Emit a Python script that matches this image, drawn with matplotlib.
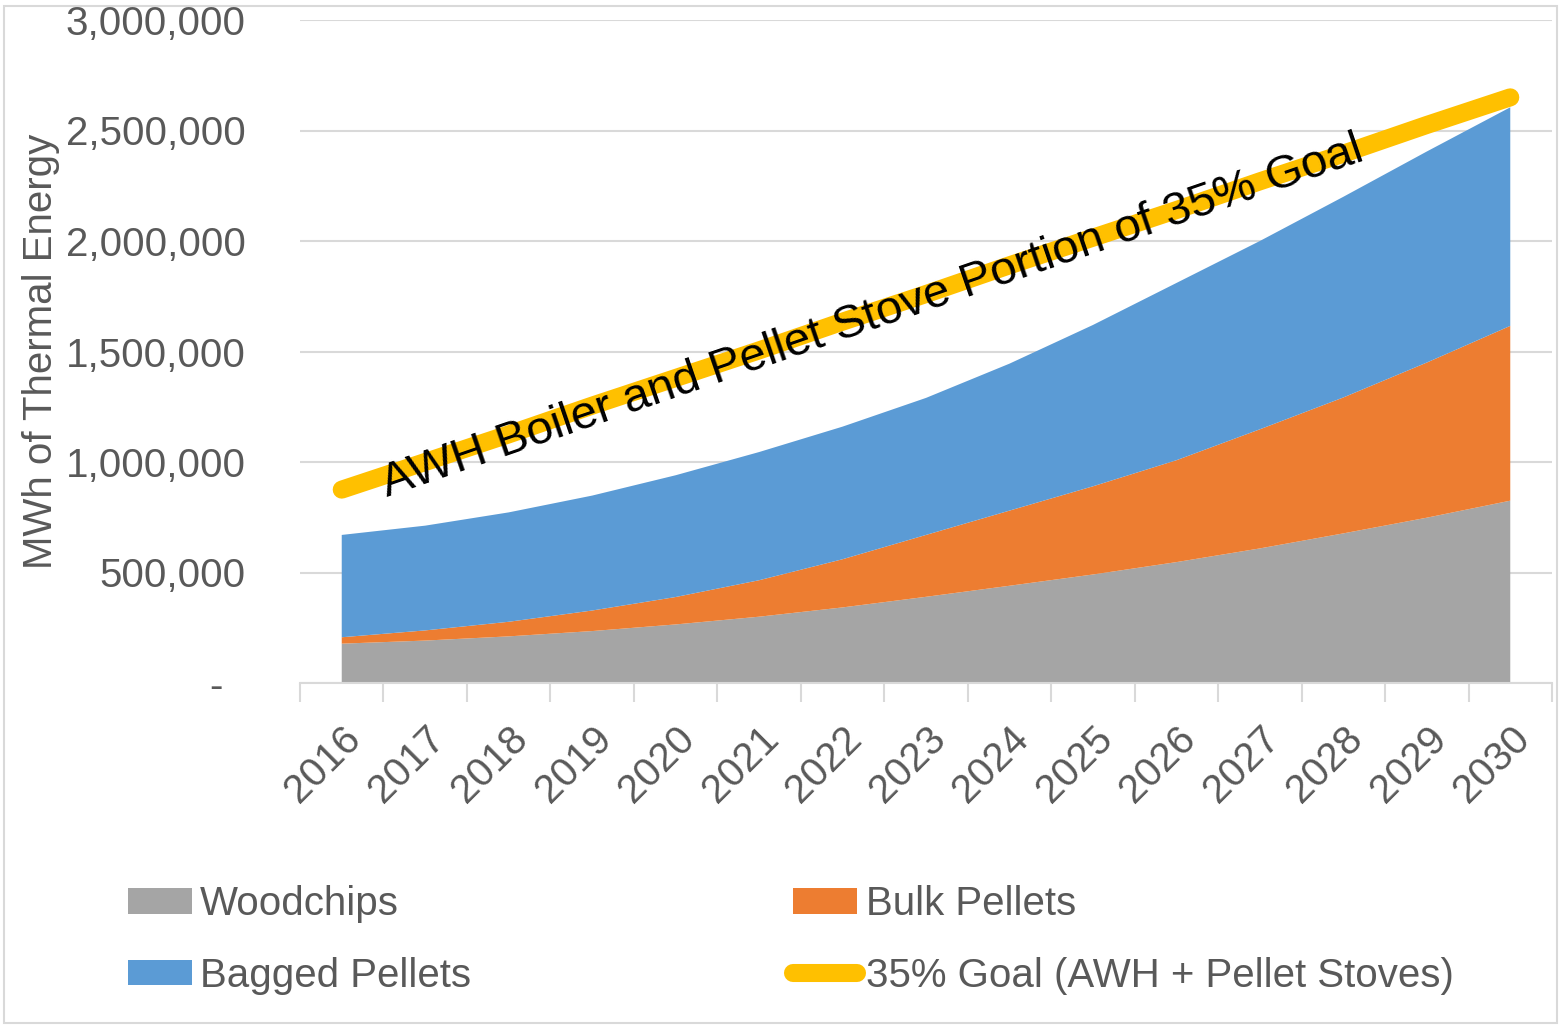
import matplotlib
matplotlib.use("Agg")
import matplotlib.pyplot as plt
from matplotlib.patches import Patch, Rectangle
from matplotlib.lines import Line2D
import numpy as np

years = ["2016", "2017", "2018", "2019", "2020", "2021", "2022", "2023",
         "2024", "2025", "2026", "2027", "2028", "2029", "2030"]
woodchips = [178000, 192000, 211000, 235000, 265000, 300000, 342000, 390000,
             440000, 491000, 547000, 609000, 677000, 748000, 825000]
bulk_top = [207000, 238000, 277000, 328000, 389000, 465000, 560000, 670000,
            780000, 890000, 1008000, 1148000, 1292000, 1450000, 1616000]
total_top = [670000, 712000, 772000, 848000, 940000, 1045000, 1160000, 1290000,
             1445000, 1620000, 1810000, 2000000, 2200000, 2405000, 2605000]
goal = [875000, 1000000, 1125000, 1255000, 1380000, 1505000, 1635000, 1760000,
        1890000, 2015000, 2140000, 2270000, 2395000, 2525000, 2650000]

bulk = [b - w for b, w in zip(bulk_top, woodchips)]
bagged = [t - b for t, b in zip(total_top, bulk_top)]

GRAY = "#A5A5A5"
ORANGE = "#ED7D31"
BLUE = "#5B9BD5"
YELLOW = "#FFC000"
TXT = "#595959"
FS = 29

plt.rcParams['font.family'] = ['Liberation Sans', 'DejaVu Sans']

fig = plt.figure(figsize=(15.63, 10.27), dpi=100)
ax = fig.add_axes([300/1563, 1-683/1027, (1552-300)/1563, (683-20)/1027])

x = np.arange(len(years))
ax.stackplot(x, woodchips, bulk, bagged, colors=[GRAY, ORANGE, BLUE],
             linewidth=0, zorder=2)
ax.plot(x, goal, color=YELLOW, lw=13, solid_capstyle='round', zorder=3)

ax.set_xlim(-0.5, len(years) - 0.5)
ax.set_ylim(0, 3000000)

yt = [0, 500000, 1000000, 1500000, 2000000, 2500000, 3000000]
ax.set_yticks(yt)
ax.set_yticklabels(["-  "] + [f"{v:,}" for v in yt[1:]])
ax.yaxis.grid(True, color="#D9D9D9", lw=1.5, zorder=0)
ax.set_axisbelow(True)
ax.tick_params(axis='y', length=0, labelsize=FS, labelcolor=TXT, pad=39)

ax.set_xticks(x)
ax.set_xticklabels(years, rotation=45, ha='right', va='top',
                   rotation_mode='anchor', fontsize=FS, color=TXT)
ax.set_xticks(np.arange(-0.5, len(years)), minor=True)
ax.tick_params(axis='x', which='major', length=0, pad=26)
ax.tick_params(axis='x', which='minor', length=14, width=1.5, color="#D9D9D9")

for s in ['left', 'right', 'top']:
    ax.spines[s].set_visible(False)
ax.spines['bottom'].set_color("#D9D9D9")
ax.spines['bottom'].set_linewidth(1.5)

ax.set_ylabel("MWh of Thermal Energy", fontsize=29, color=TXT)
ax.yaxis.set_label_coords(-0.192, 0.5)

ax.text(6.45, 1560000, "AWH Boiler and Pellet Stove Portion of 35% Goal",
        rotation=19.0, ha='center', va='bottom', fontsize=34, color='black',
        rotation_mode='anchor', zorder=4)

handles = [Patch(facecolor=GRAY), Patch(facecolor=BLUE),
           Patch(facecolor=ORANGE),
           Line2D([], [], color=YELLOW, lw=13, solid_capstyle='round')]
labels = ["Woodchips", "Bagged Pellets", "Bulk Pellets",
          "35% Goal (AWH + Pellet Stoves)"]
fig.legend(handles, labels, ncol=2, loc='upper left',
           bbox_to_anchor=(128/1563, 1-885/1027), frameon=False,
           fontsize=FS, labelcolor=TXT, handlelength=1.59, handleheight=0.6,
           handletextpad=0.2, columnspacing=8.0, labelspacing=0.84,
           borderaxespad=0, borderpad=0)

fig.patches.append(Rectangle((4/1563, 4/1027), 1-10/1563, 1-10/1027,
                             transform=fig.transFigure, fill=False,
                             edgecolor="#D9D9D9", lw=1.5))

fig.savefig("out.png", dpi=100)
